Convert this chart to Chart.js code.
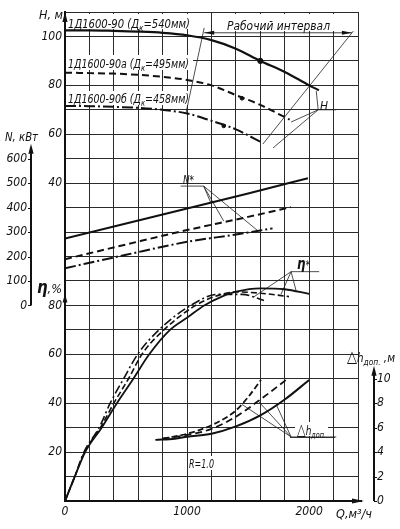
<!DOCTYPE html>
<html lang="ru">
<head>
<meta charset="utf-8">
<title>1Д1600-90</title>
<script src="https://cdn.jsdelivr.net/npm/chart.js@4.4.1/dist/chart.umd.min.js"></script>
<style>
  html, body { margin: 0; padding: 0; background: #fff; }
  canvas { display: block; }
</style>
</head>
<body>
<canvas id="pumpChart" width="400" height="529"></canvas>
<script>
const FONT = "'Liberation Sans Narrow', 'DejaVu Sans Condensed', 'Roboto Condensed', sans-serif";

// scale ranges: every axis spans the same 20 grid steps
const Q_MAX = 2400;
const H_MIN = -90, H_MAX = 110;
const N_MIN = -800, N_MAX = 1200;
const ETA_MIN = 0, ETA_MAX = 200;
const DH_MIN = 0, DH_MAX = 40;

// tick labels that are shown
const qTickLabels = [0, 1000, 2000];
const hTickLabels = [40, 60, 80, 100];
const etaTickLabels = [20, 40, 60, 80];
const nTickLabels = [0, 100, 200, 300, 400, 500, 600];
const dhTickLabels = [0, 2, 4, 6, 8, 10];

// head H, m
const qH540 = [0, 200, 400, 600, 800, 1000, 1200, 1400, 1600, 1800, 2000, 2080];
const h540 = [102.5, 102.5, 102.3, 102, 101.5, 100.5, 98.5, 95, 90, 85.5, 80, 78];
const qH495 = [0, 200, 400, 600, 800, 1000, 1200, 1400, 1600, 1800, 1840];
const h495 = [85.2, 85, 84.8, 84.3, 83.5, 82.2, 80, 76, 72, 67, 66];
const qH458 = [0, 200, 400, 600, 800, 1000, 1200, 1400, 1620];
const h458 = [71.6, 71.5, 71.2, 70.8, 70, 68.5, 65.5, 62, 56.4];

// power N, kW
const qN540 = [0, 500, 1000, 1500, 1990];
const n540 = [274, 335, 396, 458, 520];
const qN495 = [0, 500, 1000, 1500, 1850];
const n495 = [189, 249, 308, 362, 402];
const qN458 = [0, 500, 1000, 1400, 1700];
const n458 = [152, 207, 260, 290, 315];

// efficiency, %
const qEta540 = [0, 80, 165, 300, 425, 560, 690, 860, 1000, 1140, 1280, 1400, 1600, 1800, 2000];
const eta540 = [0, 10, 20, 30, 40, 50, 60, 70, 75, 80, 83.5, 85.6, 87, 86.6, 84.7];
const qEta495 = [0, 80, 160, 290, 400, 520, 630, 810, 1070, 1250, 1400, 1600, 1835];
const eta495 = [0, 10, 20, 30, 40, 50, 60, 70, 80, 84, 85.5, 85, 83.6];
const qEta458 = [0, 80, 155, 280, 370, 480, 595, 770, 1030, 1250, 1450, 1630];
const eta458 = [0, 10, 20, 30, 40, 50, 60, 70, 80, 84.5, 84.5, 82];

// allowable NPSH, m
const qDh540 = [740, 900, 1000, 1200, 1400, 1600, 1800, 2000];
const dh540 = [5.0, 5.1, 5.25, 5.5, 6.1, 7.0, 8.3, 9.9];
const qDh495 = [800, 1000, 1200, 1400, 1600, 1810];
const dh495 = [5.1, 5.4, 5.9, 6.9, 8.3, 9.9];
const qDh458 = [800, 1000, 1200, 1400, 1500, 1605];
const dh458 = [5.1, 5.5, 6.2, 7.4, 8.5, 9.9];

// nominal points on the H curves
const qNominal = [1600, 1450, 1300];
const hNominal = [90, 74.7, 63.4];

// working interval borders and leader lines, [Q, value]
const workLeft = [[990, 68.5], [1140, 103.5]];
const workRight = [[1621, 56], [2362, 102.2]];
const hLeaders = [[[2222, 70], [2074, 70], [2058, 77.7]], [[2074, 70], [1852, 65]], [[2074, 70], [1704, 54.4]]];
const nLeaders = [[[947, 488], [1136, 488], [1193, 421]], [[1136, 488], [1300, 345]], [[1136, 488], [1580, 305]]];
const etaLeaders = [[[2082, 93.8], [1852, 93.8], [1547, 83.5]], [[1852, 93.8], [1769, 84.5]], [[1852, 93.8], [1893, 86]]];
const dhLeaders = [[[2222, 5.24], [1852, 5.24], [1450, 7.9]], [[1852, 5.24], [1580, 8.2]], [[1852, 5.24], [1730, 7.9]]];

const SOLID = [];
const DASH = [7, 4];
const DASHDOT = [11, 3, 2, 3];

function curve(qs, vs, axis, dash, width) {
    return {
        data: qs.map((q, i) => ({ x: q, y: vs[i] })),
        yAxisID: axis,
        borderColor: '#111',
        borderWidth: width,
        borderDash: dash,
        pointRadius: 0,
        fill: false,
        cubicInterpolationMode: 'monotone'
    };
}

function leader(points, axis) {
    return {
        data: points.map(([q, v]) => ({ x: q, y: v })),
        yAxisID: axis,
        borderColor: '#222',
        borderWidth: 0.8,
        pointRadius: 0,
        fill: false,
        tension: 0
    };
}

const datasets = [
    curve(qH540, h540, 'yH', SOLID, 2.2),
    curve(qH495, h495, 'yH', DASH, 2),
    curve(qH458, h458, 'yH', DASHDOT, 2),
    curve(qN540, n540, 'yN', SOLID, 2),
    curve(qN495, n495, 'yN', DASH, 2),
    curve(qN458, n458, 'yN', DASHDOT, 2),
    curve(qEta540, eta540, 'yEta', SOLID, 1.8),
    curve(qEta495, eta495, 'yEta', [6, 3], 1.6),
    curve(qEta458, eta458, 'yEta', [9, 3, 2, 3], 1.6),
    curve(qDh540, dh540, 'yDh', SOLID, 2),
    curve(qDh495, dh495, 'yDh', DASH, 1.8),
    curve(qDh458, dh458, 'yDh', [6, 3], 1.8),
    leader(workLeft, 'yH'),
    leader(workRight, 'yH'),
    ...hLeaders.map(p => leader(p, 'yH')),
    ...nLeaders.map(p => leader(p, 'yN')),
    ...etaLeaders.map(p => leader(p, 'yEta')),
    ...dhLeaders.map(p => leader(p, 'yDh')),
    {
        data: qNominal.map((q, i) => ({ x: q, y: hNominal[i] })),
        yAxisID: 'yH',
        showLine: false,
        pointRadius: [2.6, 1.8, 1.8],
        pointBackgroundColor: '#111',
        pointBorderColor: '#111'
    }
];

// draws a run of text parts squeezed into the given width
function rich(ctx, parts, x, y, w, size) {
    const fonts = parts.map(p => {
        let s = size, weight = '';
        if (p[1] === 'sub') s = size * 0.72;
        if (p[1] === 'big') { s = size * 1.3; weight = 'bold '; }
        if (p[1] === 'tri') s = size * 1.25;
        return `italic ${weight}${s}px ${FONT}`;
    });
    let total = 0;
    parts.forEach((p, i) => { ctx.font = fonts[i]; total += ctx.measureText(p[0]).width; });
    ctx.save();
    ctx.translate(x, y);
    ctx.scale(w ? w / total : 1, 1);
    ctx.textBaseline = 'alphabetic';
    ctx.textAlign = 'left';
    let cx = 0;
    parts.forEach((p, i) => {
        ctx.font = fonts[i];
        ctx.fillText(p[0], cx, p[1] === 'sub' ? size * 0.22 : 0);
        cx += ctx.measureText(p[0]).width;
    });
    ctx.restore();
}

function arrow(ctx, x, y, dir, len, half) {
    ctx.beginPath();
    ctx.moveTo(x, y);
    if (dir === 'up') { ctx.lineTo(x - half, y + len); ctx.lineTo(x + half, y + len); }
    if (dir === 'left') { ctx.lineTo(x + len, y - half); ctx.lineTo(x + len, y + half); }
    if (dir === 'right') { ctx.lineTo(x - len, y - half); ctx.lineTo(x - len, y + half); }
    ctx.closePath();
    ctx.fill();
}

const boxedLabels = [
    { parts: [['1Д1600-90 (Д'], ['к', 'sub'], ['=540мм)']], x: 68, y: 28, w: 122, box: [66, 14, 127, 15] },
    { parts: [['1Д1600-90а (Д'], ['к', 'sub'], ['=495мм)']], x: 68, y: 68, w: 121, box: [66, 55, 127, 15] },
    { parts: [['1Д1600-90б (Д'], ['к', 'sub'], ['=458мм)']], x: 68, y: 103, w: 121, box: [66, 91, 127, 14] },
    { parts: [['Рабочий интервал']], x: 227, y: 30, w: 103, box: [224, 14, 110, 17] },
    { parts: [['R=1.0']], x: 189, y: 468, w: 25, box: [188, 456, 28, 14] },
    { parts: [['△', 'tri'], ['h'], ['доп.', 'sub']], x: 297, y: 435, w: 29, box: [295, 422, 33, 14] }
];

const decor = {
    id: 'decor',
    beforeDatasetsDraw(chart) {
        const ctx = chart.ctx;
        ctx.save();
        boxedLabels.forEach(l => {
            ctx.fillStyle = '#fff';
            ctx.fillRect(...l.box);
            ctx.fillStyle = '#111';
            rich(ctx, l.parts, l.x, l.y, l.w, 13);
        });
        ctx.restore();
    },
    afterDatasetsDraw(chart) {
        const { ctx, chartArea: area, scales: { x, yN, yEta, yDh, yH } } = chart;
        ctx.save();
        ctx.fillStyle = '#111';
        ctx.strokeStyle = '#111';

        // power axis on the far left
        const xN = yN.right - 1;
        const n0 = yN.getPixelForValue(0), n600 = yN.getPixelForValue(600);
        ctx.lineWidth = 2;
        ctx.beginPath(); ctx.moveTo(xN, n0); ctx.lineTo(xN, n600 - 10); ctx.stroke();
        arrow(ctx, xN, n600 - 15, 'up', 10, 2.6);
        ctx.lineWidth = 1;
        nTickLabels.forEach(v => {
            const py = Math.round(yN.getPixelForValue(v)) + 0.5;
            ctx.beginPath(); ctx.moveTo(xN - 3, py); ctx.lineTo(xN, py); ctx.stroke();
        });

        // NPSH axis on the right
        const xD = yDh.left + 16;
        const d0 = yDh.getPixelForValue(0), d10 = yDh.getPixelForValue(10);
        ctx.lineWidth = 2;
        ctx.beginPath(); ctx.moveTo(xD, d0); ctx.lineTo(xD, d10 - 8); ctx.stroke();
        arrow(ctx, xD, d10 - 13, 'up', 10, 2.6);
        ctx.lineWidth = 1;
        dhTickLabels.forEach(v => {
            const py = Math.round(yDh.getPixelForValue(v)) + 0.5;
            ctx.beginPath(); ctx.moveTo(xD, py); ctx.lineTo(xD + 3, py); ctx.stroke();
        });

        // arrows of the head / efficiency / flow axes
        arrow(ctx, area.left, area.top, 'up', 10, 2.6);
        arrow(ctx, area.left, yEta.getPixelForValue(80) - 12, 'up', 9, 2.4);
        ctx.lineWidth = 2;
        ctx.beginPath(); ctx.moveTo(area.right, area.bottom); ctx.lineTo(area.right + 4, area.bottom); ctx.stroke();
        arrow(ctx, area.right + 6, area.bottom, 'right', 12, 2.4);

        // working interval arrow
        const yw = yH.getPixelForValue(101.5);
        const xa = x.getPixelForValue(1140), xb = x.getPixelForValue(2350);
        ctx.lineWidth = 0.8;
        ctx.beginPath(); ctx.moveTo(xa, yw); ctx.lineTo(xb, yw); ctx.stroke();
        arrow(ctx, xa, yw, 'left', 10, 2);
        arrow(ctx, xb, yw, 'right', 10, 2);

        // label underline for the NPSH leaders
        ctx.beginPath();
        ctx.moveTo(290, 437.5); ctx.lineTo(335, 437.5);
        ctx.stroke();

        // axis titles and curve group labels
        rich(ctx, [['H, м']], 39, 19, 24, 13);
        rich(ctx, [['N, кВт']], 5, 141, 33, 13);
        rich(ctx, [['η', 'big'], [',%']], 37, 293, 25, 13);
        rich(ctx, [['△', 'tri'], ['h'], ['доп.', 'sub'], [' ,м']], 347, 362, 48, 13);
        rich(ctx, [['Q,м³/ч']], 336, 518, 36, 12);
        rich(ctx, [['N*']], 183, 184, 11, 12);
        rich(ctx, [['η', 'big'], ['*']], 297, 269, 13, 12);
        rich(ctx, [['H']], 320, 110, 8, 13);
        ctx.restore();
    }
};

const tickFont = { family: FONT, size: 12, style: 'italic' };

// scale label paddings are dropped so the grid keeps its exact box
function noPad(s) {
    s.paddingTop = 0;
    s.paddingBottom = 0;
    s.paddingLeft = 0;
    s.paddingRight = 0;
}

new Chart(document.getElementById('pumpChart'), {
    type: 'line',
    data: { datasets },
    options: {
        responsive: false,
        devicePixelRatio: 1,
        animation: false,
        events: [],
        layout: { padding: { top: 12, left: 0, right: 0, bottom: 0 } },
        plugins: { legend: { display: false }, tooltip: { enabled: false } },
        scales: {
            x: {
                type: 'linear', min: 0, max: Q_MAX, position: 'bottom',
                ticks: {
                    stepSize: 200, autoSkip: false, maxRotation: 0, padding: 4, color: '#111', font: tickFont,
                    callback: v => qTickLabels.includes(v) ? String(v) : ''
                },
                grid: { color: '#2b2b2b', lineWidth: 1, drawTicks: false },
                border: { display: true, color: '#111', width: 2 },
                afterFit: s => { noPad(s); s.height = 28; }
            },
            yEta: {
                type: 'linear', position: 'left', weight: 0, min: ETA_MIN, max: ETA_MAX,
                ticks: {
                    stepSize: 10, autoSkip: false, padding: 3, color: '#111', font: tickFont,
                    callback: v => {
                        if (etaTickLabels.includes(v)) return String(v);
                        const h = Math.round(H_MIN + (v - ETA_MIN) * (H_MAX - H_MIN) / (ETA_MAX - ETA_MIN));
                        return v > 100 && hTickLabels.includes(h) ? String(h) : '';
                    }
                },
                grid: { color: '#2b2b2b', lineWidth: 1, drawTicks: false },
                border: { display: true, color: '#111', width: 2 },
                afterFit: s => { noPad(s); s.width = 33; }
            },
            yN: {
                type: 'linear', position: 'left', weight: 1, min: N_MIN, max: N_MAX,
                ticks: {
                    stepSize: 100, autoSkip: false, padding: 5, color: '#111', font: tickFont,
                    callback: v => nTickLabels.includes(v) ? String(v) : ''
                },
                grid: { display: false, drawTicks: false },
                border: { display: false },
                afterFit: s => { noPad(s); s.width = 32; }
            },
            yDh: {
                type: 'linear', position: 'right', min: DH_MIN, max: DH_MAX,
                ticks: {
                    stepSize: 2, autoSkip: false, padding: 19, color: '#111', font: tickFont,
                    callback: v => dhTickLabels.includes(v) ? String(v) : ''
                },
                grid: { display: false, drawTicks: false },
                border: { display: false },
                afterFit: s => { noPad(s); s.width = 42; }
            },
            yH: { type: 'linear', display: false, min: H_MIN, max: H_MAX }
        }
    },
    plugins: [decor]
});
</script>
</body>
</html>
